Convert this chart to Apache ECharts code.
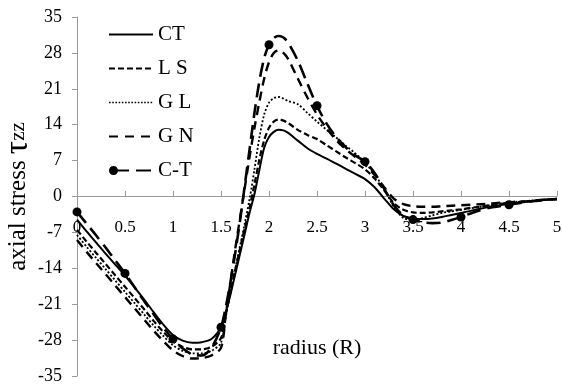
<!DOCTYPE html>
<html lang="en">
    <head>
        <meta charset="UTF-8" />
        <script type="text/javascript" src="https://cdn.jsdelivr.net/npm/echarts@6/dist/echarts.min.js"></script>
        <title>axial stress</title>
        <style type="text/css">
            html, body { margin: 0; padding: 0; background: #fff; }
            #chart { width: 562px; height: 387px; }
        </style>
    </head>
    <body>
        <div id="chart"></div>
        <script type="text/javascript">
            // radius positions shared by all curves
            let radius = [
                0, 0.1, 0.2, 0.3, 0.4, 0.5, 0.6, 0.7, 0.8, 0.9, 1.0, 1.1, 1.2, 1.3, 1.4, 1.5,
                1.55, 1.6, 1.65, 1.7, 1.75, 1.8, 1.85, 1.9, 1.95, 2.0, 2.05, 2.1, 2.15, 2.2,
                2.3, 2.4, 2.5, 2.6, 2.7, 2.8, 2.9, 3.0, 3.1, 3.2, 3.3, 3.4, 3.5, 3.6, 3.7,
                3.8, 3.9, 4.0, 4.1, 4.2, 4.3, 4.4, 4.5, 4.6, 4.7, 4.8, 4.9, 5.0
            ];

            let ct = [
                -4.5, -6.8, -9.0, -11.2, -13.3, -15.4, -17.7, -20.1, -22.6, -25.0, -27.0, -28.1, -28.5, -28.4, -27.8, -25.5,
                -22.5, -19.0, -15.0, -11.0, -7.0, -3.0, 0.6, 5.2, 9.5, 11.6, 12.6, 13.0, 12.9, 12.4,
                10.9, 9.4, 8.3, 7.4, 6.4, 5.4, 4.4, 3.4, 1.8, -0.4, -2.5, -3.8, -4.3, -4.4, -4.3,
                -4.0, -3.6, -3.2, -2.8, -2.4, -2.0, -1.7, -1.4, -1.2, -1.0, -0.8, -0.6, -0.5
            ];

            let ls = [
                -6.5, -8.8, -11.0, -13.2, -15.4, -17.6, -19.8, -22.0, -24.3, -26.4, -28.2, -29.3, -29.8, -29.8, -29.3, -27.6,
                -23.0, -18.5, -14.2, -10.0, -6.0, -2.0, 2.5, 7.2, 11.0, 13.4, 14.6, 15.0, 14.8, 14.3,
                13.0, 12.0, 11.2, 10.0, 8.8, 7.6, 6.5, 5.3, 3.5, 1.2, -1.3, -2.6, -3.1, -3.2, -3.1,
                -2.9, -2.7, -2.5, -2.2, -2.0, -1.7, -1.5, -1.2, -1.1, -0.9, -0.8, -0.6, -0.5
            ];

            let gl = [
                -7.5, -9.8, -12.0, -14.2, -16.4, -18.6, -20.8, -23.0, -25.2, -27.2, -29.0, -30.1, -30.6, -30.6, -30.1, -28.5,
                -23.5, -18.5, -14.0, -9.5, -5.0, -0.3, 5.5, 11.5, 16.0, 18.3, 19.2, 19.4, 19.1, 18.6,
                18.0, 16.3, 14.6, 13.0, 11.5, 9.9, 8.4, 6.6, 4.3, 1.5, -2.0, -4.2, -4.6, -4.2, -3.7,
                -3.2, -2.9, -2.6, -2.3, -2.0, -1.7, -1.4, -1.2, -1.0, -0.9, -0.7, -0.6, -0.5
            ];

            let gn = [
                -8.5, -10.8, -13.0, -15.2, -17.4, -19.6, -21.8, -24.0, -26.2, -28.2, -30.0, -31.1, -31.6, -31.5, -31.0, -29.5,
                -23.0, -16.5, -10.0, -4.0, 2.0, 8.0, 13.5, 18.5, 23.0, 26.2, 28.0, 28.5, 28.0, 26.8,
                23.0, 19.3, 16.0, 13.3, 11.0, 9.2, 7.7, 6.2, 4.2, 1.8, -0.4, -1.5, -1.9, -2.0, -2.0,
                -1.9, -1.8, -1.7, -1.6, -1.5, -1.4, -1.2, -1.1, -1.0, -0.9, -0.7, -0.6, -0.5
            ];

            let ct2 = [
                -3.0, -5.3, -7.6, -10.0, -12.5, -15.0, -17.7, -20.4, -23.0, -25.6, -27.8, -29.6, -30.8, -31.0, -29.5, -25.5,
                -21.5, -16.5, -10.8, -4.5, 2.5, 9.5, 16.5, 22.5, 27.0, 29.6, 30.9, 31.3, 31.0, 30.0,
                26.5, 22.0, 17.7, 14.2, 11.6, 9.6, 8.0, 6.8, 4.6, 1.5, -1.7, -3.7, -4.5, -5.0, -5.2,
                -5.1, -4.6, -4.0, -3.3, -2.7, -2.2, -1.9, -1.6, -1.3, -1.0, -0.8, -0.6, -0.5
            ];

            // radius values where the C-T curve carries a marker
            let ctMarks = [0, 0.5, 1.0, 1.5, 2.0, 2.5, 3.0, 3.5, 4.0, 4.5];

            let yTicks = [-35, 35, 7];

            function pairs(ys) {
                return radius.map((r, i) => [r, ys[i]]);
            }

            let serif = "'Liberation Serif', 'Times New Roman', serif";
            let chart = echarts.init(document.getElementById("chart"));

            // legend glyphs, drawn as filled shapes 44 x 12
            let icons = {
                solid: "path://M0,5 L44,5 L44,7 L0,7 Z M0,0 L0.01,0 L0.01,12 L0,12 Z",
                short: "path://M0,5 L6,5 L6,7 L0,7 Z M9,5 L15,5 L15,7 L9,7 Z M18,5 L24,5 L24,7 L18,7 Z M27,5 L33,5 L33,7 L27,7 Z M36,5 L42,5 L42,7 L36,7 Z M0,0 L0.01,0 L0.01,12 L0,12 Z M44,0 L44.01,0 L44.01,0.01 Z",
                dot: "path://M0,5.2 L1.6,5.2 L1.6,6.8 L0,6.8 Z M3.2,5.2 L4.8,5.2 L4.8,6.8 L3.2,6.8 Z M6.4,5.2 L8,5.2 L8,6.8 L6.4,6.8 Z M9.6,5.2 L11.2,5.2 L11.2,6.8 L9.6,6.8 Z M12.8,5.2 L14.4,5.2 L14.4,6.8 L12.8,6.8 Z M16,5.2 L17.6,5.2 L17.6,6.8 L16,6.8 Z M19.2,5.2 L20.8,5.2 L20.8,6.8 L19.2,6.8 Z M22.4,5.2 L24,5.2 L24,6.8 L22.4,6.8 Z M25.6,5.2 L27.2,5.2 L27.2,6.8 L25.6,6.8 Z M28.8,5.2 L30.4,5.2 L30.4,6.8 L28.8,6.8 Z M32,5.2 L33.6,5.2 L33.6,6.8 L32,6.8 Z M35.2,5.2 L36.8,5.2 L36.8,6.8 L35.2,6.8 Z M38.4,5.2 L40,5.2 L40,6.8 L38.4,6.8 Z M41.6,5.2 L43.2,5.2 L43.2,6.8 L41.6,6.8 Z M0,0 L0.01,0 L0.01,12 L0,12 Z M44,0 L44.01,0 L44.01,0.01 Z",
                medium: "path://M0,5 L9,5 L9,7 L0,7 Z M16,5 L25,5 L25,7 L16,7 Z M32,5 L41,5 L41,7 L32,7 Z M0,0 L0.01,0 L0.01,12 L0,12 Z M44,0 L44.01,0 L44.01,0.01 Z",
                marked: "path://M0,6 C0,3.5 1.8,1.5 4.5,1.5 C7.2,1.5 9,3.5 9,6 C9,8.5 7.2,10.5 4.5,10.5 C1.8,10.5 0,8.5 0,6 Z M8,5 L20,5 L20,7 L8,7 Z M27,5 L42,5 L42,7 L27,7 Z M0,0 L0.01,0 L0.01,12 L0,12 Z M44,0 L44.01,0 L44.01,0.01 Z",
            };

            function lineSeries(name, ys, type, width) {
                return {
                    name: name,
                    type: "line",
                    data: pairs(ys),
                    smooth: 0.3,
                    symbol: "none",
                    itemStyle: { color: "#000" },
                    lineStyle: { color: "#000", width: width, type: type },
                };
            }

            let option = {
                animation: false,
                backgroundColor: "#fff",
                grid: { left: 77, right: 5, top: 17, bottom: 11, containLabel: false, outerBoundsMode: "none" },
                legend: {
                    orient: "vertical",
                    left: 104,
                    top: 19,
                    itemWidth: 44,
                    itemHeight: 12,
                    itemGap: 13,
                    itemStyle: { borderWidth: 0, color: "#000" },
                    textStyle: { fontFamily: serif, fontSize: 21, color: "#000", lineHeight: 21 },
                    data: [
                        { name: "CT", icon: icons.solid },
                        { name: "L S", icon: icons.short },
                        { name: "G L", icon: icons.dot },
                        { name: "G N", icon: icons.medium },
                        { name: "C-T", icon: icons.marked },
                    ],
                },
                xAxis: {
                    type: "value",
                    position: "bottom",
                    offset: -180,
                    min: 0,
                    max: 5,
                    interval: 0.5,
                    name: "radius (R)",
                    nameLocation: "middle",
                    nameGap: 141,
                    nameTextStyle: { fontFamily: serif, fontSize: 22, color: "#000" },
                    axisLine: { show: true, onZero: false, lineStyle: { color: "#9a9a9a", width: 1 } },
                    axisTick: { show: true, inside: true, length: 5, lineStyle: { color: "#9a9a9a" } },
                    axisLabel: { show: true, margin: 23, fontFamily: serif, fontSize: 17, color: "#000" },
                    splitLine: { show: false },
                },
                yAxis: {
                    type: "value",
                    min: yTicks[0],
                    max: yTicks[1],
                    interval: yTicks[2],
                    name: "{a|axial stress }{t|τ}{z|zz}",
                    nameLocation: "middle",
                    nameGap: 42,
                    nameMoveOverlap: false,
                    nameTextStyle: {
                        color: "#000",
                        rich: {
                            a: { fontFamily: serif, fontSize: 25, color: "#000" },
                            t: { fontFamily: serif, fontSize: 33, color: "#000" },
                            z: { fontFamily: serif, fontSize: 21, color: "#000" },
                        },
                    },
                    axisLine: { show: true, onZero: false, lineStyle: { color: "#9a9a9a", width: 1 } },
                    axisTick: { show: true, length: 5, lineStyle: { color: "#9a9a9a" } },
                    axisLabel: { margin: 15, fontFamily: serif, fontSize: 18, color: "#000" },
                    splitLine: { show: false },
                },
                series: [
                    lineSeries("CT", ct, "solid", 2),
                    lineSeries("L S", ls, [6, 3], 2.2),
                    lineSeries("G L", gl, [2, 2], 1.8),
                    lineSeries("G N", gn, [9, 6], 2.4),
                    {
                        name: "C-T",
                        type: "line",
                        data: pairs(ct2),
                        smooth: 0.3,
                        symbol: "circle",
                        symbolSize: function (val) {
                            return ctMarks.indexOf(val[0]) >= 0 ? 9 : 0;
                        },
                        itemStyle: { color: "#000" },
                        lineStyle: { color: "#000", width: 2.6, type: [14, 7] },
                    },
                ],
            };
            chart.setOption(option);
        </script>
    </body>
</html>
